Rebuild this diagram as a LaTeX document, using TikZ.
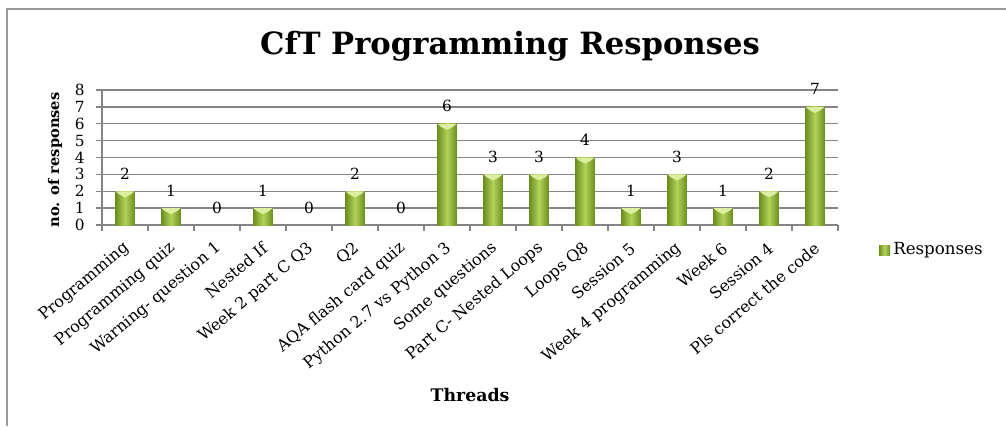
\documentclass[tikz,border=0pt]{standalone}
\usepackage{fontspec}
\setmainfont{DejaVu Serif}
\definecolor{framec}{HTML}{9A9A9A}
\definecolor{gridc}{HTML}{858585}
\definecolor{bardark}{HTML}{6E8F22}
\definecolor{barlight}{HTML}{B2D258}
\definecolor{barcap}{HTML}{DCEEA0}
\begin{document}
\begin{tikzpicture}[x=0.75pt,y=-0.75pt,
  gridline/.style={draw=gridc,line width=1.1pt},
  axisline/.style={draw=gridc,line width=1.1pt},
  valuelab/.style={anchor=base,inner sep=0pt,font=\fontsize{11.5}{13}\selectfont},
  ticklab/.style={anchor=east,inner sep=0pt,font=\fontsize{11.5}{13}\selectfont},
  catlab/.style={rotate=40,anchor=east,inner sep=0pt,font=\fontsize{12}{14}\selectfont},
  bartitle/.style={font=\fontsize{11}{13}\selectfont\bfseries,inner sep=0pt}]
\useasboundingbox (0,0) rectangle (1006,426);
% frame
\draw[draw=framec,line width=1.4pt] (7,426) -- (7,9) -- (1006,9);
% title
\node[anchor=base,inner sep=0pt,font=\fontsize{23}{27}\selectfont\bfseries] (title) at (510,54) {CfT Programming Responses};
% grid
\foreach \v in {1,...,8}{
  \draw[gridline] (96,{225-16.875*\v}) -- (838,{225-16.875*\v});
}
\foreach \v in {0,...,8}{
  \node[ticklab] (ytick\v) at (85,{225-16.875*\v}) {\v};
}
\draw[axisline] (102,90) -- (102,225);
\draw[axisline] (96,225) -- (838,225);
\foreach \i in {0,...,16}{
  \draw[axisline] ({102+46*\i},225) -- ({102+46*\i},231);
}
% bars
\foreach \lab/\val [count=\i from 0] in {Programming/2,Programming quiz/1,Warning- question 1/0,Nested If/1,Week 2 part C Q3/0,Q2/2,AQA flash card quiz/0,Python 2.7 vs Python 3/6,Some questions/3,Part C- Nested Loops/3,Loops Q8/4,Session 5/1,Week 4 programming/3,Week 6/1,Session 4/2,Pls correct the code/7}{
  \pgfmathsetmacro\cx{102+46*(\i+0.5)}
  \pgfmathsetmacro\ty{225-16.875*\val}
  \ifnum\val>0
    \shade[left color=bardark,right color=bardark,middle color=barlight] (\cx-9.5,\ty) rectangle (\cx+9.5,225);
    \fill[barcap] (\cx-9.5,\ty) -- (\cx+9.5,\ty) -- (\cx+6,\ty+3) -- (\cx,\ty+6) -- (\cx-6,\ty+3) -- cycle;
  \fi
  \node[valuelab] (val\i) at (\cx,\ty-12) {\val};
  \node[catlab] (cat\i) at (\cx+2,246) {\lab};
}
% axis titles
\node[bartitle,rotate=90] (ytitle) at (55,160) {no. of responses};
\node[font=\fontsize{13}{15}\selectfont\bfseries,inner sep=0pt] (xtitle) at (470,395) {Threads};
% legend
\shade[left color=bardark,right color=bardark,middle color=barlight] (879,245) rectangle (890,255);
\node[anchor=west,inner sep=0pt,font=\fontsize{12.5}{15}\selectfont] (legend) at (893,250) {Responses};
\end{tikzpicture}
\end{document}
